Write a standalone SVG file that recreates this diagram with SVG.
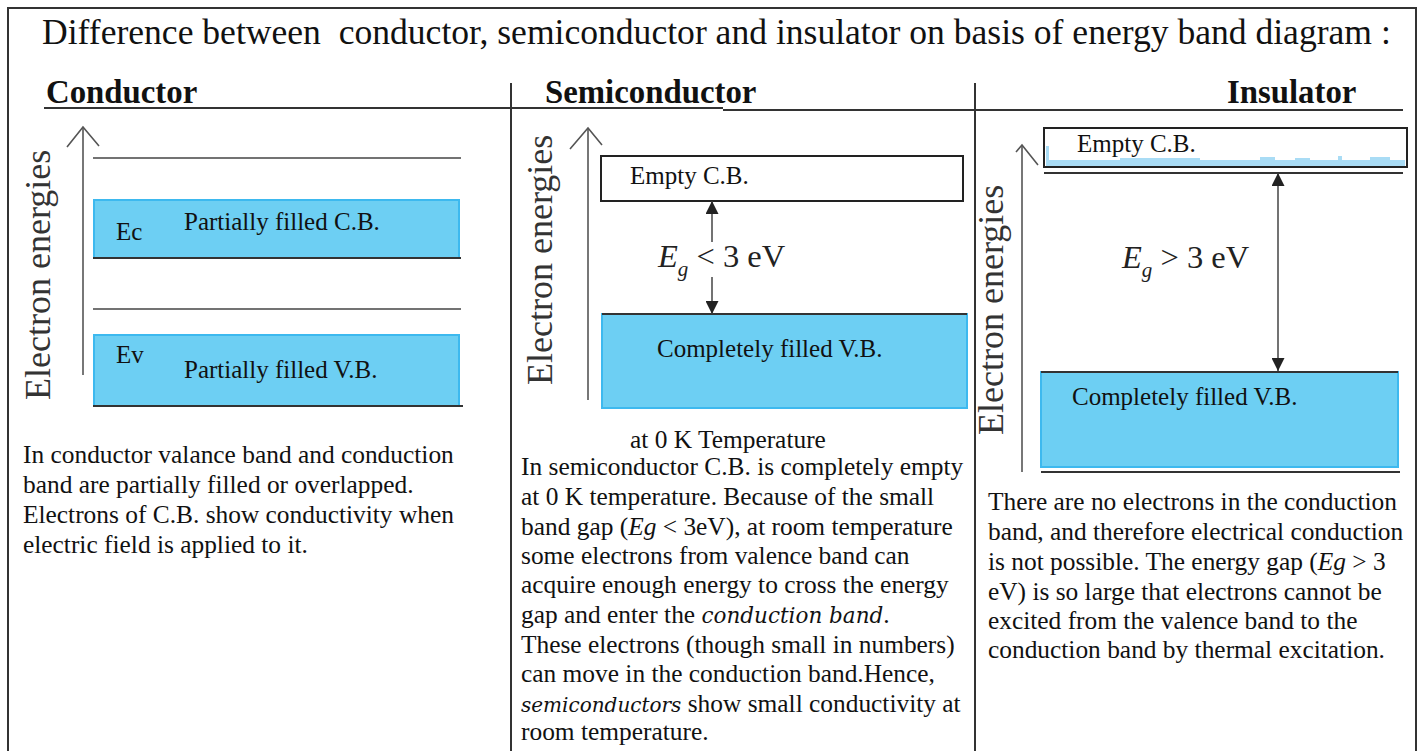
<svg xmlns="http://www.w3.org/2000/svg" width="1419" height="751" viewBox="0 0 1419 751">
<style>
.t{font-family:"Liberation Serif","Times New Roman",serif;fill:#111}
.title{font-size:35.6px}
.hdr{font-size:32.8px;font-weight:bold}
.axis{font-size:36px;fill:#333}
.lbl{font-size:25px}
.eg{font-size:32.5px;fill:#222}
.para{font-size:25.4px}
.it{font-style:italic;font-family:"DejaVu Serif",serif;font-size:21.5px}
.it2{font-style:italic;font-family:"DejaVu Serif",serif;font-size:20px}
.ln{stroke:#333;stroke-width:2;fill:none}
.thin{stroke:#444;stroke-width:1.5;fill:none}
.ax{stroke:#555;stroke-width:1.6;fill:none}
.band{fill:#6dcff3;stroke:#3db9ef;stroke-width:2}
.empty{fill:#fff;stroke:#222;stroke-width:2}
</style>
<defs>
<marker id="ah" viewBox="0 0 12 12" refX="12" refY="6" markerWidth="13" markerHeight="13" markerUnits="userSpaceOnUse" orient="auto-start-reverse">
<path d="M0,0 L12,6 L0,12 Z" fill="#222"/>
</marker>
</defs>
<rect width="1419" height="751" fill="#fff"/>
<g id="frame">
<path class="ln" d="M8,760 V8 H1416 V760"/>
<line class="ln" x1="511" y1="83" x2="511" y2="760"/>
<line class="ln" x1="975" y1="83" x2="975" y2="760"/>
<line class="ln" x1="44" y1="108" x2="511" y2="108"/>
<line class="ln" x1="500" y1="108" x2="723" y2="108"/>
<line class="ln" x1="723" y1="110" x2="980" y2="110"/>
<line class="ln" x1="970" y1="110" x2="1403" y2="110"/>
</g>
<text class="t title" x="42" y="44">Difference between&#160; conductor, semiconductor and insulator on basis of energy band diagram :</text>
<text class="t hdr" x="46" y="103">Conductor</text>
<text class="t hdr" x="545" y="103">Semiconductor</text>
<text class="t hdr" x="1227" y="103">Insulator</text>

<g id="conductor">
<polyline class="ax" points="67,147 83,127 99,146"/>
<line class="ax" x1="83" y1="127" x2="83" y2="375"/>
<text class="t axis" transform="translate(50,400) rotate(-90)">Electron energies</text>
<line class="thin" x1="93" y1="158" x2="461" y2="158"/>
<rect class="band" x="94" y="200" width="365" height="58"/>
<line class="ln" x1="93" y1="258" x2="461" y2="258"/>
<line class="thin" x1="93" y1="309" x2="461" y2="309"/>
<rect class="band" x="94" y="335" width="365" height="71"/>
<line class="ln" x1="93" y1="406" x2="463" y2="406"/>
<text class="t lbl" x="116" y="240">Ec</text>
<text class="t lbl" x="184" y="230">Partially filled C.B.</text>
<text class="t lbl" x="116" y="363">Ev</text>
<text class="t lbl" x="184" y="378">Partially filled V.B.</text>
</g>

<g id="semiconductor">
<polyline class="ax" points="570,149 588,128 602,145"/>
<line class="ax" x1="588" y1="128" x2="588" y2="400"/>
<text class="t axis" transform="translate(552,385) rotate(-90)">Electron energies</text>
<rect class="empty" x="601" y="156" width="362" height="45"/>
<text class="t lbl" x="630" y="184">Empty C.B.</text>
<rect class="band" x="602" y="314" width="365" height="94"/>
<line class="ln" x1="602" y1="314" x2="967" y2="314"/>
<text class="t lbl" x="657" y="357">Completely filled V.B.</text>
<text class="t eg" x="658" y="267"><tspan font-style="italic">E</tspan><tspan font-style="italic" font-size="21" dy="9">g</tspan><tspan dy="-9"> &lt; 3 eV</tspan></text>
</g>

<g id="insulator">
<polyline class="ax" points="1016,152 1022,145 1038,165"/>
<line class="ax" x1="1022" y1="145" x2="1022" y2="472"/>
<text class="t axis" transform="translate(1003,435) rotate(-90)">Electron energies</text>
<path d="M1046,166 L1046,146 L1049,146 L1049,160 L1120,160 L1120,158 L1200,158 L1200,160 L1260,160 L1260,157 L1275,157 L1275,160 L1295,160 L1295,158 L1310,158 L1310,160 L1338,160 L1338,156 L1342,156 L1342,160 L1370,160 L1370,157 L1390,157 L1390,160 L1405,160 L1405,166 Z" fill="#a9dcf5"/>
<rect x="1044" y="128" width="363" height="39" fill="none" stroke="#222" stroke-width="2"/>
<line class="ln" x1="1044" y1="173" x2="1403" y2="173"/>
<text class="t lbl" x="1077" y="152">Empty C.B.</text>
<rect class="band" x="1041" y="372" width="357" height="95"/>
<line class="ln" x1="1041" y1="372" x2="1398" y2="372"/>
<line class="ln" x1="1041" y1="472" x2="1400" y2="472"/>
<text class="t lbl" x="1072" y="405">Completely filled V.B.</text>
<text class="t eg" x="1122" y="268"><tspan font-style="italic">E</tspan><tspan font-style="italic" font-size="21" dy="9">g</tspan><tspan dy="-9"> &gt; 3 eV</tspan></text>
</g>

<g id="connectors">
<line class="thin" x1="712" y1="242" x2="712" y2="201" marker-end="url(#ah)"/>
<line class="thin" x1="712" y1="277" x2="712" y2="314" marker-end="url(#ah)"/>
<line class="thin" x1="1278" y1="173" x2="1278" y2="371" marker-start="url(#ah)" marker-end="url(#ah)"/>
</g>

<g id="conductor-text">
<text class="t para" x="23" y="463">In conductor valance band and conduction</text>
<text class="t para" x="23" y="493">band are partially filled or overlapped.</text>
<text class="t para" x="23" y="523">Electrons of C.B. show conductivity when</text>
<text class="t para" x="23" y="553">electric field is applied to it.</text>
</g>

<g id="semiconductor-text">
<text class="t para" x="630" y="448">at 0 K Temperature</text>
<text class="t para" x="521" y="475">In semiconductor C.B. is completely empty</text>
<text class="t para" x="521" y="505">at 0 K temperature. Because of the small</text>
<text class="t para" x="521" y="535">band gap (<tspan font-style="italic">Eg</tspan> &lt; 3eV), at room temperature</text>
<text class="t para" x="521" y="564">some electrons from valence band can</text>
<text class="t para" x="521" y="593">acquire enough energy to cross the energy</text>
<text class="t para" x="521" y="623">gap and enter the <tspan class="it">conduction band</tspan>.</text>
<text class="t para" x="521" y="653">These electrons (though small in numbers)</text>
<text class="t para" x="521" y="682">can move in the conduction band.Hence,</text>
<text class="t para" x="521" y="712"><tspan class="it2">semiconductors</tspan> show small conductivity at</text>
<text class="t para" x="521" y="740">room temperature.</text>
</g>

<g id="insulator-text">
<text class="t para" x="988" y="510">There are no electrons in the conduction</text>
<text class="t para" x="988" y="540">band, and therefore electrical conduction</text>
<text class="t para" x="988" y="570">is not possible. The energy gap (<tspan font-style="italic">Eg</tspan> &gt; 3</text>
<text class="t para" x="988" y="600">eV) is so large that electrons cannot be</text>
<text class="t para" x="988" y="629">excited from the valence band to the</text>
<text class="t para" x="988" y="658">conduction band by thermal excitation.</text>
</g>
</svg>
